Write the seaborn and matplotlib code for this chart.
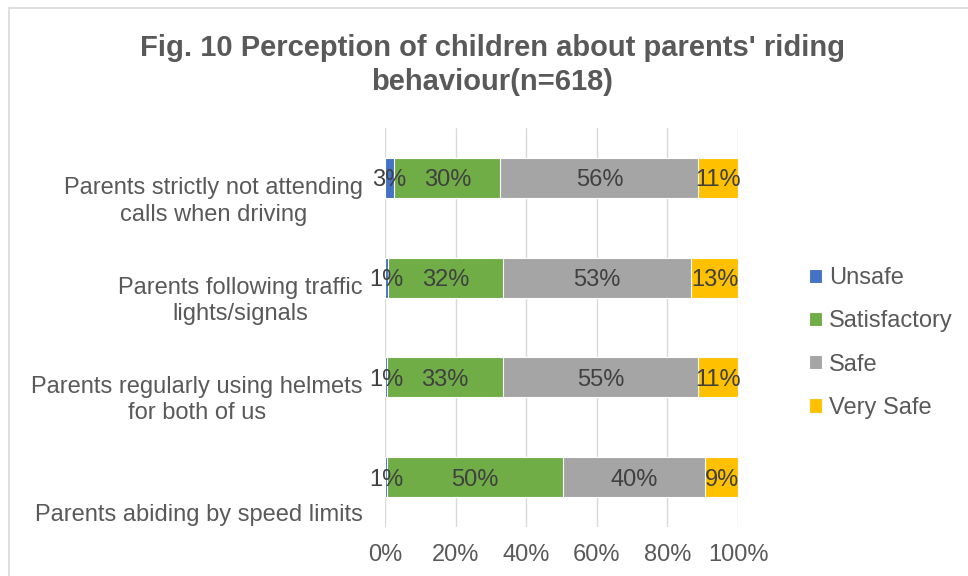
import numpy as np
import pandas as pd
import matplotlib.pyplot as plt
import matplotlib.transforms as mtransforms
from matplotlib.patches import Rectangle
import seaborn as sns

# Data (percent of n=618 children)
questions = [
    "Parents strictly not attending\ncalls when driving",
    "Parents following traffic\nlights/signals",
    "Parents regularly using helmets\nfor both of us",
    "Parents abiding by speed limits",
]
levels = ["Unsafe", "Satisfactory", "Safe", "Very Safe"]
unsafe = [2.6, 0.9, 0.7, 0.6]
satisfactory = [30.1, 32.4, 32.7, 49.7]
safe = [56.1, 53.4, 55.4, 40.4]
very_safe = [11.2, 13.3, 11.2, 9.3]
x_ticks = [0, 20, 40, 60, 80, 100]

colors = ["#4472C4", "#70AD47", "#A5A5A5", "#FFC000"]
txt_grey = "#595959"
FS = 17

sns.set_theme(style="white")
plt.rcParams['font.family'] = ['Liberation Sans', 'DejaVu Sans']

df = pd.DataFrame({"question": questions, "Unsafe": unsafe,
                   "Satisfactory": satisfactory, "Safe": safe,
                   "Very Safe": very_safe})
cum = df[levels].cumsum(axis=1)

fig = plt.figure(figsize=(9.68, 5.76), dpi=100)
ax = fig.add_axes([385 / 968, 49 / 576, 353 / 968, 399 / 576])

# stacked bars: draw cumulative totals back to front
for lvl, col in reversed(list(zip(levels, colors))):
    sns.barplot(x=cum[lvl].values, y=df["question"].values, orient="h",
                color=col, saturation=1, width=0.4, edgecolor="white",
                linewidth=0.8, ax=ax, label=lvl)

# value labels in the middle of each segment
for i in range(len(questions)):
    for lvl in levels:
        v = df.loc[i, lvl]
        c = cum.loc[i, lvl]
        ax.text(c - v / 2, i, f"{v:.0f}%", ha="center", va="center_baseline",
                fontsize=FS, color="#404040")

ax.set_xlim(0, 100)
ax.set_xticks(x_ticks)
ax.set_xticklabels([f"{t}%" for t in x_ticks])
ax.xaxis.grid(True, color="#d9d9d9", lw=1)
ax.set_axisbelow(True)
for s in ax.spines.values():
    s.set_visible(False)
ax.set_xlabel("")
ax.set_ylabel("")
ax.tick_params(axis="x", length=0, labelsize=FS, labelcolor=txt_grey, pad=12)
ax.tick_params(axis="y", length=0, labelsize=FS, labelcolor=txt_grey, pad=16)

# Excel puts the category names a bit below the bars
for lab, dy in zip(ax.get_yticklabels(), [19, 19, 18, 35]):
    lab.set_multialignment("center")
    lab.set_linespacing(1.25)
    lab.set_transform(lab.get_transform() +
                      mtransforms.ScaledTranslation(0, -dy / 100, fig.dpi_scale_trans))

handles, labels = ax.get_legend_handles_labels()
hmap = dict(zip(labels, handles))
ax.legend([hmap[l] for l in levels], levels, loc="center left",
          bbox_to_anchor=(809 / 968, 1 - 343 / 576), bbox_transform=fig.transFigure,
          frameon=False, fontsize=FS, handlelength=0.55, handleheight=0.55,
          handletextpad=0.3, labelspacing=0.9, labelcolor=txt_grey,
          borderaxespad=0, borderpad=0)

fig.text(492 / 968, 1 - 65 / 576,
         "Fig. 10 Perception of children about parents' riding\nbehaviour(n=618)",
         ha="center", va="center", fontsize=21, fontweight="bold",
         color=txt_grey, linespacing=1.3)

# light chart border (runs off the right and bottom edge)
fig.patches.append(Rectangle((9 / 968, -0.1), 1.1, 1.1 - 8 / 576,
                             transform=fig.transFigure, fill=False,
                             edgecolor="#d9d9d9", lw=1.2))

fig.savefig("out.png", dpi=100)
